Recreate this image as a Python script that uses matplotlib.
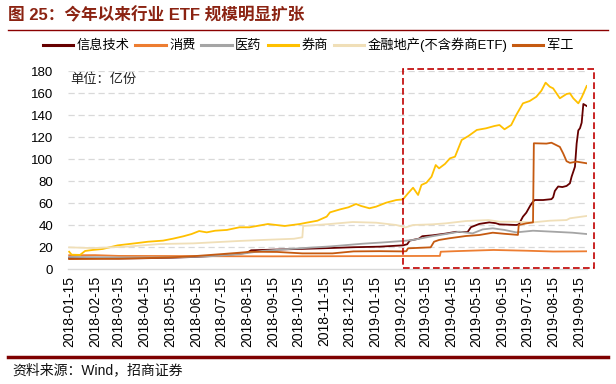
import matplotlib
matplotlib.use("Agg")
import matplotlib.pyplot as plt
import matplotlib.dates as mdates
from matplotlib.patches import Rectangle
from matplotlib.lines import Line2D
import pandas as pd

plt.rcParams['font.family'] = ['Liberation Sans', 'Noto Sans CJK SC', 'DejaVu Sans']

title = "图 25：今年以来行业 ETF 规模明显扩张"
source = "资料来源：Wind，招商证券"
unit = "单位：亿份"
names = ["信息技术", "消费", "医药", "券商", "金融地产(不含券商ETF)", "军工"]
colors = ["#660000", "#ED7D31", "#A5A5A5", "#FFC000", "#F0DFB8", "#C55A11"]

it_dates = ["2018-01-15", "2018-02-15", "2018-03-15", "2018-04-15", "2018-05-15", "2018-06-15",
            "2018-07-15", "2018-08-05", "2018-08-15", "2018-08-20", "2018-09-15", "2018-10-20",
            "2018-11-20", "2018-12-20", "2019-01-20", "2019-02-17", "2019-02-22", "2019-02-25",
            "2019-03-08", "2019-03-12", "2019-03-24", "2019-04-09", "2019-04-21", "2019-05-05",
            "2019-05-09", "2019-05-19", "2019-05-31", "2019-06-08", "2019-06-12", "2019-07-02",
            "2019-07-05", "2019-07-10", "2019-07-14", "2019-07-19", "2019-07-22", "2019-07-24",
            "2019-08-03", "2019-08-13", "2019-08-15", "2019-08-17", "2019-08-19", "2019-08-21",
            "2019-08-26", "2019-08-31", "2019-09-04", "2019-09-06", "2019-09-10", "2019-09-12",
            "2019-09-14", "2019-09-16", "2019-09-18", "2019-09-20", "2019-09-24"]
it_vals = [10.0, 9.8, 9.6, 9.8, 10.2, 11.0,
           12.3, 13.8, 14.8, 17.0, 17.6, 18.3,
           19.0, 19.8, 20.3, 21.5, 22.5, 25.8,
           27.6, 29.8, 30.6, 32.2, 33.8, 33.6,
           38.0, 41.0, 42.4, 41.6, 40.6, 40.0,
           40.5, 47.6, 51.2, 58.0, 61.2, 62.7,
           62.7, 63.5, 65.2, 70.9, 73.0, 75.0,
           74.5, 75.5, 77.9, 83.9, 93.0, 114.0,
           126.0, 128.0, 133.0, 150.0, 148.2]

cons_dates = ["2018-01-15", "2018-02-15", "2018-03-15", "2018-05-15", "2018-07-15", "2018-09-15",
              "2018-11-15", "2019-01-15", "2019-02-17", "2019-04-02", "2019-04-03", "2019-04-20",
              "2019-05-15", "2019-06-05", "2019-07-15", "2019-08-15", "2019-09-10", "2019-09-24"]
cons_vals = [12.5, 12.6, 11.9, 11.8, 11.6, 11.5,
             11.6, 11.7, 11.8, 11.9, 15.7, 16.2,
             16.8, 17.3, 16.6, 15.9, 16.0, 16.1]

med_dates = ["2018-01-15", "2018-03-15", "2018-05-15", "2018-07-01", "2018-08-06", "2018-09-03",
             "2018-10-20", "2018-11-22", "2018-12-31", "2019-01-25", "2019-02-17", "2019-03-01",
             "2019-03-21", "2019-04-09", "2019-04-25", "2019-05-11", "2019-05-23", "2019-06-04",
             "2019-06-18", "2019-07-02", "2019-07-22", "2019-08-15", "2019-09-07", "2019-09-24"]
med_vals = [11.0, 10.5, 10.5, 11.5, 13.5, 16.5,
            19.0, 20.5, 23.0, 24.2, 25.5, 26.4,
            29.4, 31.8, 33.9, 32.4, 36.0, 37.0,
            35.5, 33.3, 34.8, 33.9, 33.0, 31.8]

brk_dates = ["2018-01-15", "2018-01-18", "2018-01-28", "2018-02-03", "2018-02-12", "2018-02-24",
             "2018-03-14", "2018-04-03", "2018-04-19", "2018-05-07", "2018-05-19", "2018-05-31",
             "2018-06-10", "2018-06-19", "2018-06-28", "2018-07-08", "2018-07-22", "2018-08-06",
             "2018-08-18", "2018-09-09", "2018-09-29", "2018-10-17", "2018-10-25", "2018-11-07",
             "2018-11-18", "2018-11-22", "2018-12-04", "2018-12-14", "2018-12-23", "2018-12-29",
             "2019-01-08", "2019-01-16", "2019-01-28", "2019-02-09", "2019-02-17", "2019-02-23",
             "2019-03-01", "2019-03-07", "2019-03-11", "2019-03-17", "2019-03-23", "2019-03-28",
             "2019-04-01", "2019-04-08", "2019-04-14", "2019-04-20", "2019-04-28", "2019-05-06",
             "2019-05-16", "2019-05-27", "2019-06-06", "2019-06-12", "2019-06-18", "2019-06-26",
             "2019-07-02", "2019-07-10", "2019-07-18", "2019-07-26", "2019-08-01", "2019-08-06",
             "2019-08-11", "2019-08-15", "2019-08-23", "2019-08-31", "2019-09-04", "2019-09-08",
             "2019-09-14", "2019-09-18", "2019-09-24"]
brk_vals = [15.7, 13.0, 12.8, 16.4, 17.3, 18.2,
            21.5, 23.3, 24.8, 25.8, 27.6, 29.7,
            31.8, 34.5, 33.3, 34.8, 35.5, 37.9,
            37.9, 40.9, 39.1, 40.9, 42.1, 43.9,
            47.6, 51.5, 54.2, 56.1, 59.1, 57.3,
            55.2, 56.7, 60.3, 62.7, 63.3, 68.8,
            73.9, 67.3, 76.4, 78.5, 83.9, 94.5,
            91.5, 95.5, 100.6, 102.1, 117.3, 120.9,
            126.4, 127.9, 130.0, 130.9, 127.0, 130.9,
            140.0, 150.6, 152.7, 156.6, 162.1, 169.4,
            165.7, 164.2, 155.2, 159.1, 159.7, 155.2,
            150.6, 156.0, 166.4]

fin_dates = ["2018-01-15", "2018-02-12", "2018-03-24", "2018-05-03", "2018-06-12", "2018-08-06",
             "2018-09-03", "2018-10-10", "2018-10-20", "2018-10-21", "2018-11-22", "2018-12-19",
             "2019-01-16", "2019-02-09", "2019-02-20", "2019-03-01", "2019-03-24", "2019-04-09",
             "2019-05-03", "2019-05-30", "2019-06-12", "2019-06-28", "2019-07-22", "2019-08-11",
             "2019-08-31", "2019-09-04", "2019-09-24"]
fin_vals = [19.7, 19.0, 20.3, 22.7, 23.3, 25.5,
            26.4, 27.5, 28.8, 39.1, 40.9, 42.7,
            42.1, 40.0, 37.8, 40.0, 40.6, 41.5,
            43.6, 44.5, 43.0, 43.0, 42.4, 43.9,
            44.5, 46.1, 48.2]

mil_dates = ["2018-01-15", "2018-03-15", "2018-05-15", "2018-06-15", "2018-07-15", "2018-08-06",
             "2018-08-20", "2018-09-20", "2018-10-20", "2018-11-25", "2018-12-20", "2019-01-20",
             "2019-02-17", "2019-02-21", "2019-02-23", "2019-03-22", "2019-03-26", "2019-04-01",
             "2019-04-13", "2019-05-03", "2019-05-19", "2019-06-04", "2019-06-18", "2019-07-04",
             "2019-07-05", "2019-07-14", "2019-07-22", "2019-07-23", "2019-08-07", "2019-08-13",
             "2019-08-23", "2019-08-27", "2019-08-31", "2019-09-04", "2019-09-12", "2019-09-24"]
mil_vals = [9.0, 9.3, 10.5, 11.8, 13.5, 14.8,
            15.7, 15.5, 14.2, 14.2, 16.0, 16.2,
            16.0, 16.2, 18.8, 19.7, 24.8, 26.4,
            27.9, 30.0, 30.9, 33.0, 32.0, 31.0,
            40.0, 41.5, 42.4, 114.3, 114.0, 114.8,
            111.0, 105.0, 98.0, 96.5, 97.6, 96.1]

tick_dates = pd.date_range("2018-01-01", "2019-09-01", freq="MS") + pd.Timedelta(days=14)
yticks = [0, 20, 40, 60, 80, 100, 120, 140, 160, 180]
box_start, box_end = "2019-02-17", "2019-10-03"

series = [(it_dates, it_vals), (cons_dates, cons_vals), (med_dates, med_vals),
          (brk_dates, brk_vals), (fin_dates, fin_vals), (mil_dates, mil_vals)]

fig = plt.figure(figsize=(6.16, 3.84), dpi=100)
ax = fig.add_axes([68.3 / 616, 115 / 384, 518.4 / 616, 198 / 384])

for (d, v), c, n in zip(series, colors, names):
    ax.plot(pd.to_datetime(d), v, color=c, lw=1.3, label=n, solid_joinstyle='round')

ax.set_ylim(0, 180)
ax.set_xlim(pd.Timestamp("2018-01-14"), pd.Timestamp("2019-09-24"))
ax.set_yticks(yticks)
ax.set_xticks(tick_dates)
ax.xaxis.set_major_formatter(mdates.DateFormatter('%Y-%m-%d'))
ax.tick_params(axis='x', labelrotation=90, length=0, pad=5, labelsize=10)
ax.tick_params(axis='y', length=0, pad=11, labelsize=9.5)
for s in ['left', 'right', 'top']:
    ax.spines[s].set_visible(False)
ax.spines['bottom'].set_color('#D9D9D9')
ax.spines['bottom'].set_linewidth(1.0)
for yv in yticks[1:]:
    ax.axhline(yv, color='#D9D9D9', lw=0.9, ls=(0, (5, 3)), zorder=0)

x0 = mdates.date2num(pd.Timestamp(box_start))
x1 = mdates.date2num(pd.Timestamp(box_end))
rect = Rectangle((x0, 0.6), x1 - x0, 181.0, fill=False, edgecolor='#C00000', lw=1.2,
                 ls=(0, (4, 2)), clip_on=False, zorder=5)
ax.add_patch(rect)

fig.text(70.7 / 616, 1 - 79.3 / 384, unit, fontsize=9.5,
         va='center', ha='left', color='#222222')

# legend
handles = [Line2D([0], [0], color=c, lw=2.2) for c in colors]
fig.legend(handles, names, loc='center', bbox_to_anchor=(308 / 616, 1 - 45 / 384), ncol=6,
           frameon=False, fontsize=9.5, handlelength=2.3, handletextpad=0.25,
           columnspacing=0.45, borderaxespad=0)

# title and rules
fig.text(8 / 616, 1 - 15 / 384, title, fontsize=12, fontweight='bold', color='#8B2312',
         ha='left', va='center')
fig.add_artist(Line2D([8 / 616, 608 / 616], [1 - 30 / 384, 1 - 30 / 384], color='#8B0000',
                      lw=1.0, transform=fig.transFigure))
fig.add_artist(Line2D([8 / 616, 608 / 616], [1 - 357 / 384, 1 - 357 / 384], color='#7F0000',
                      lw=2.5, transform=fig.transFigure))
fig.text(12 / 616, 1 - 370 / 384, source, fontsize=10, color='#111111', ha='left', va='center')

fig.savefig("out.png", dpi=100)
